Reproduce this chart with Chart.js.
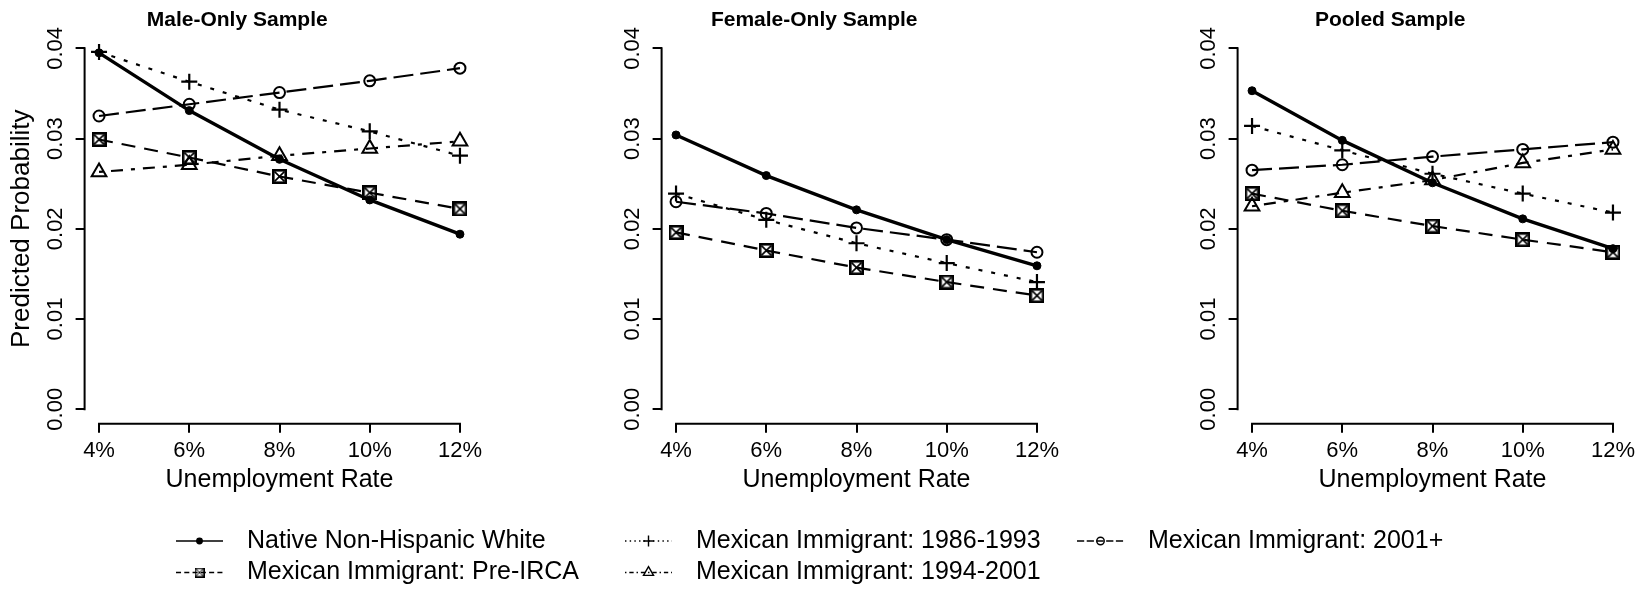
<!DOCTYPE html>
<html>
<head>
<meta charset="utf-8">
<script src="https://cdn.jsdelivr.net/npm/chart.js@4.4.0/dist/chart.umd.min.js"></script>
<style>
  html, body { margin: 0; padding: 0; background: #fff; width: 1648px; height: 591px; overflow: hidden; }
  canvas { position: absolute; }
</style>
</head>
<body>
<canvas id="male" style="left:0px;top:0px;width:559px;height:500px" width="559" height="500"></canvas>
<canvas id="female" style="left:577px;top:0px;width:559px;height:500px" width="559" height="500"></canvas>
<canvas id="pooled" style="left:1153px;top:0px;width:559px;height:500px" width="559" height="500"></canvas>
<canvas id="key" style="left:0px;top:500px;width:1648px;height:91px" width="1648" height="91"></canvas>
<script>
// Unemployment rate (%) on the x axis
const rates = [4, 6, 8, 10, 12];
const rateLabels = ['4%', '6%', '8%', '10%', '12%'];
const probTicks = [0, 0.01, 0.02, 0.03, 0.04];
const probLabels = ['0.00', '0.01', '0.02', '0.03', '0.04'];

const seriesNames = [
  'Native Non-Hispanic White',
  'Mexican Immigrant: Pre-IRCA',
  'Mexican Immigrant: 1986-1993',
  'Mexican Immigrant: 1994-2001',
  'Mexican Immigrant: 2001+'
];

// Male-only sample
const maleNative  = [0.0395, 0.0331, 0.0277, 0.0232, 0.0194];
const malePreIRCA = [0.0299, 0.0279, 0.0258, 0.0240, 0.0222];
const male8693    = [0.0396, 0.0363, 0.0332, 0.0308, 0.0281];
const male9401    = [0.0263, 0.0271, 0.0281, 0.0289, 0.0297];
const male2001    = [0.0325, 0.0338, 0.0351, 0.0364, 0.0378];

// Female-only sample (no 1994-2001 estimate)
const femaleNative  = [0.0304, 0.0259, 0.0221, 0.0188, 0.0159];
const femalePreIRCA = [0.0196, 0.0176, 0.0157, 0.0141, 0.0126];
const female8693    = [0.0239, 0.0210, 0.0184, 0.0162, 0.0141];
const female2001    = [0.0230, 0.0217, 0.0201, 0.0188, 0.0174];

// Pooled sample
const pooledNative  = [0.0353, 0.0298, 0.0251, 0.0211, 0.0178];
const pooledPreIRCA = [0.0239, 0.0220, 0.0203, 0.0188, 0.0174];
const pooled8693    = [0.0314, 0.0287, 0.0261, 0.0239, 0.0218];
const pooled9401    = [0.0225, 0.0240, 0.0254, 0.0273, 0.0288];
const pooled2001    = [0.0265, 0.0271, 0.0280, 0.0288, 0.0296];

Chart.defaults.font.family = '"Liberation Sans", Arial, sans-serif';
Chart.defaults.color = '#000';

// Square with an X inside (boxed cross marker)
function boxedCross(size, edge, diag) {
  const c = document.createElement('canvas');
  c.width = size; c.height = size;
  const g = c.getContext('2d');
  g.strokeStyle = '#000';
  g.lineWidth = edge;
  g.strokeRect(edge / 2, edge / 2, size - edge, size - edge);
  g.lineWidth = diag;
  g.beginPath();
  g.moveTo(edge, edge); g.lineTo(size - edge, size - edge);
  g.moveTo(size - edge, edge); g.lineTo(edge, size - edge);
  g.stroke();
  return c;
}
const boxMarker = boxedCross(15, 2.6, 1.6);
const boxMarkerSmall = boxedCross(10, 1.5, 1);

// Line / marker style for each group
const seriesStyles = [
  { borderWidth: 3.4, borderDash: [],            pointStyle: 'circle',   pointRadius: 4,   pointBorderWidth: 1,   pointBackgroundColor: '#000', keyMarker: 'circle' },
  { borderWidth: 2.2, borderDash: [14, 9],       pointStyle: boxMarker,  pointRadius: 7,   pointBorderWidth: 2,   pointBackgroundColor: 'rgba(0,0,0,0)', keyMarker: boxMarkerSmall },
  { borderWidth: 2.2, borderDash: [4, 9],        pointStyle: 'cross',    pointRadius: 8,   pointBorderWidth: 2.2, pointBackgroundColor: 'rgba(0,0,0,0)', keyMarker: 'cross' },
  { borderWidth: 2.2, borderDash: [4, 8, 12, 8], pointStyle: 'triangle', pointRadius: 8.5, pointBorderWidth: 2,   pointBackgroundColor: 'rgba(0,0,0,0)', keyMarker: 'triangle' },
  { borderWidth: 2.2, borderDash: [20, 7],       pointStyle: 'circle',   pointRadius: 5.5, pointBorderWidth: 2,   pointBackgroundColor: 'rgba(0,0,0,0)', keyMarker: 'circle' }
];

function makeDataset(i, values) {
  const s = seriesStyles[i];
  return {
    label: seriesNames[i],
    data: values ? rates.map((r, k) => ({ x: r, y: values[k] })) : [],
    borderColor: '#000',
    borderWidth: s.borderWidth,
    borderDash: s.borderDash,
    pointStyle: s.pointStyle,
    pointRadius: s.pointRadius,
    pointBorderWidth: s.pointBorderWidth,
    pointBorderColor: '#000',
    pointBackgroundColor: s.pointBackgroundColor,
    fill: false,
    tension: 0,
    clip: false
  };
}

// Axis lines that run only from the first to the last tick
const axisLines = {
  id: 'axisLines',
  afterDraw(chart) {
    const { ctx, chartArea, scales } = chart;
    const x = scales.x, y = scales.y;
    ctx.save();
    ctx.strokeStyle = '#000';
    ctx.lineWidth = 2;
    ctx.lineCap = 'square';
    ctx.beginPath();
    ctx.moveTo(x.getPixelForValue(rates[0]), chartArea.bottom);
    ctx.lineTo(x.getPixelForValue(rates[rates.length - 1]), chartArea.bottom);
    ctx.moveTo(chartArea.left, y.getPixelForValue(probTicks[0]));
    ctx.lineTo(chartArea.left, y.getPixelForValue(probTicks[probTicks.length - 1]));
    ctx.stroke();
    ctx.restore();
  }
};

const xSpan = rates[rates.length - 1] - rates[0];
const ySpan = probTicks[probTicks.length - 1] - probTicks[0];

function buildPanel(id, title, seriesValues, withYTitle) {
  const datasets = [];
  seriesValues.forEach((v, i) => { if (v) datasets.push(makeDataset(i, v)); });
  return new Chart(document.getElementById(id), {
    type: 'line',
    data: { datasets },
    plugins: [axisLines],
    options: {
      responsive: false,
      animation: false,
      events: [],
      layout: { padding: { left: 0, right: 84.6, top: 0, bottom: 0 } },
      plugins: {
        legend: { display: false },
        tooltip: { enabled: false },
        title: {
          display: true, text: title, color: '#000',
          font: { size: 21, weight: 'bold' },
          padding: { top: 8, bottom: 0.7 }
        }
      },
      scales: {
        x: {
          type: 'linear',
          min: rates[0] - 0.04 * xSpan,
          max: rates[rates.length - 1] + 0.04 * xSpan,
          afterBuildTicks: s => { s.ticks = rates.map(v => ({ value: v })); },
          afterFit: s => { s.height = 76.3; },
          ticks: {
            callback: (v, i) => rateLabels[i],
            font: { size: 22 }, color: '#000',
            autoSkip: false, maxRotation: 0, minRotation: 0, padding: 5
          },
          grid: { display: true, drawOnChartArea: false, drawTicks: true, tickLength: 9, lineWidth: 2, color: '#000' },
          border: { display: false },
          title: {
            display: true, text: 'Unemployment Rate', color: '#000',
            font: { size: 25 }, padding: { top: 0, bottom: 5 }
          }
        },
        y: {
          type: 'linear',
          min: probTicks[0] - 0.04 * ySpan,
          max: probTicks[probTicks.length - 1] + 0.04 * ySpan,
          afterBuildTicks: s => { s.ticks = probTicks.map(v => ({ value: v })); },
          afterFit: s => { s.width = 84.6; },
          ticks: {
            callback: (v, i) => probLabels[i],
            font: { size: 22 }, color: '#000',
            minRotation: 90, maxRotation: 90, crossAlign: 'center', padding: -2
          },
          grid: { display: true, drawOnChartArea: false, drawTicks: true, tickLength: 9, lineWidth: 2, color: '#000' },
          border: { display: false },
          title: {
            display: withYTitle, text: 'Predicted Probability', color: '#000',
            font: { size: 26 }, padding: { top: 6.4, bottom: 0 }
          }
        }
      }
    }
  });
}

buildPanel('male', 'Male-Only Sample',
  [maleNative, malePreIRCA, male8693, male9401, male2001], true);
buildPanel('female', 'Female-Only Sample',
  [femaleNative, femalePreIRCA, female8693, null, female2001], false);
buildPanel('pooled', 'Pooled Sample',
  [pooledNative, pooledPreIRCA, pooled8693, pooled9401, pooled2001], false);

// Series key below the panels: thin sample line with a small marker
const keySlots = [
  { x: 199.5, y: 41, textX: 247 },
  { x: 199.5, y: 72.5, textX: 247 },
  { x: 648.5, y: 41, textX: 696 },
  { x: 648.5, y: 72.5, textX: 696 },
  { x: 1100.5, y: 41, textX: 1148 }
];

const seriesKey = {
  id: 'seriesKey',
  afterDraw(chart) {
    const ctx = chart.ctx;
    chart.data.datasets.forEach((ds, i) => {
      const slot = keySlots[i];
      const s = seriesStyles[i];
      ctx.save();
      ctx.strokeStyle = '#000';
      ctx.lineWidth = 1.4;
      ctx.setLineDash(ds.borderDash.map(d => d * 0.36));
      ctx.beginPath();
      ctx.moveTo(slot.x - 23.5, slot.y);
      ctx.lineTo(slot.x + 23.5, slot.y);
      ctx.stroke();
      ctx.setLineDash([]);
      ctx.fillStyle = ds.pointBackgroundColor;
      ctx.lineWidth = 1.4;
      Chart.helpers.drawPoint(ctx, {
        pointStyle: s.keyMarker, rotation: 0,
        radius: ds.pointRadius * 0.68, borderWidth: 1.4
      }, slot.x, slot.y);
      ctx.fillStyle = '#000';
      ctx.font = '25px "Liberation Sans", Arial, sans-serif';
      ctx.textAlign = 'left';
      ctx.textBaseline = 'middle';
      ctx.fillText(ds.label, slot.textX, slot.y);
      ctx.restore();
    });
  }
};

new Chart(document.getElementById('key'), {
  type: 'line',
  data: { datasets: seriesNames.map((n, i) => makeDataset(i, null)) },
  plugins: [seriesKey],
  options: {
    responsive: false,
    animation: false,
    events: [],
    plugins: { legend: { display: false }, tooltip: { enabled: false } },
    scales: { x: { display: false }, y: { display: false } }
  }
});
</script>
</body>
</html>
